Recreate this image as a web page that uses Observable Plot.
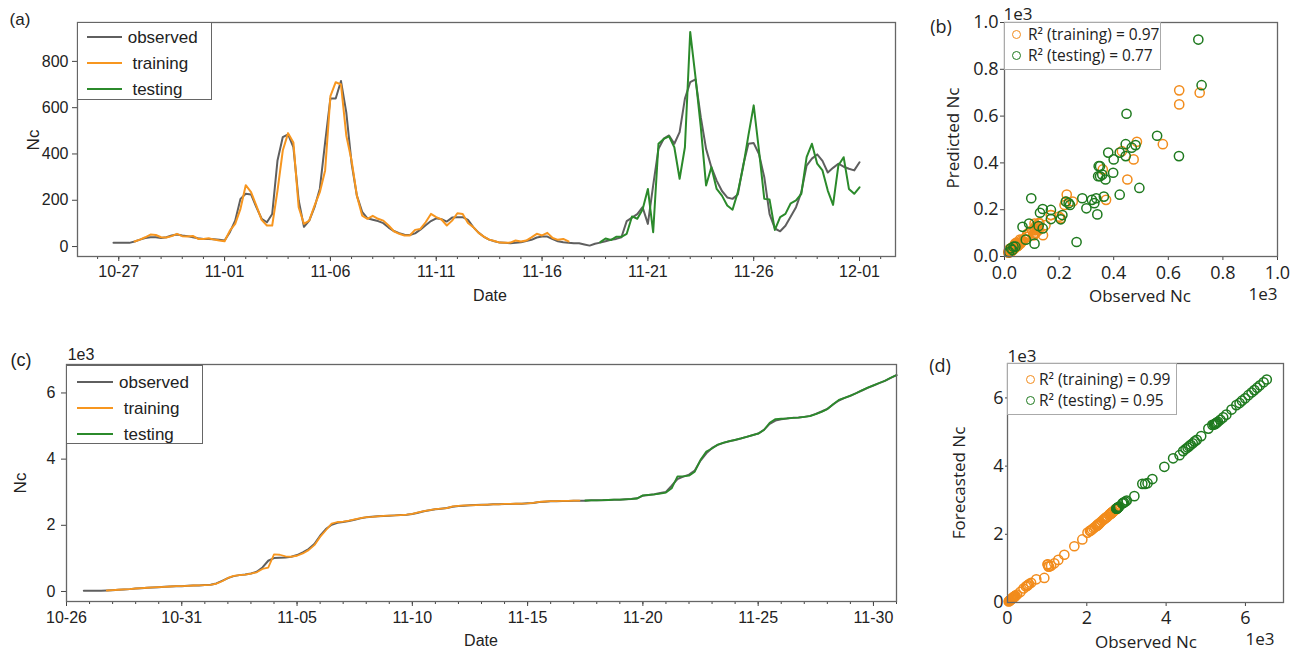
<!DOCTYPE html>
<html><head><meta charset="utf-8">
<script src="https://cdn.jsdelivr.net/npm/d3@7"></script>
<script src="https://cdn.jsdelivr.net/npm/@observablehq/plot@0.6"></script>
<style>
body{margin:0;background:#fff;}
#wrap{position:relative;width:1301px;height:652px;overflow:hidden;background:#fff;}
.abs{position:absolute;white-space:nowrap;line-height:1;color:#222;}
.panel{position:absolute;}
.legend{position:absolute;background:#fff;border:1.3px solid #666;box-sizing:border-box;}
</style></head><body><div id="wrap"></div>
<script>
// ---------- DATA (6-hourly samples starting 10-26 18:00) ----------
const seriesStart = "2021-10-26T18:00:00Z";
const stepHours = 6;
const trainStartIndex = 4;
const testStartIndex = 92;     // panel (a)
const testCumStartIndex = 87;  // panel (c)

// Panel (a): Nc per time step
const observedRate = [
16,16,16,16,22,30,37,40,40,37,
40,48,52,48,45,40,36,33,33,32,
29,26,62,112,206,228,225,170,120,105,
141,372,473,485,430,200,85,112,170,250,
450,640,640,715,580,360,220,150,122,116,
110,101,82,67,58,51,50,57,73,92,
110,122,118,108,125,127,127,115,84,60,
42,30,23,17,16,14,16,19,24,29,
39,43,43,32,23,19,16,14,14,9,
4,12,17,23,29,33,40,110,125,140,
170,98,264,422,466,480,444,494,639,710,
722,559,422,343,285,240,212,206,225,350,
444,447,400,300,140,78,66,90,130,170,
235,350,380,398,370,320,340,358,345,336,
329,364];
const trainingRate = [
22,30,40,52,50,40,39,45,55,45,
43,46,33,33,36,30,26,23,69,98,
163,265,235,177,115,91,91,242,415,490,
450,170,98,112,177,235,329,650,710,700,
480,372,220,134,120,133,120,112,91,66,
55,48,48,72,76,105,141,127,117,91,
112,144,141,102,84,59,43,30,24,17,
16,17,26,22,26,40,55,48,59,37,
29,33,22];
const testingRate = [
19,35,28,42,42,55,130,120,160,249,
62,444,465,476,429,293,429,927,732,516,
264,343,249,220,177,159,235,343,480,610,
415,206,203,72,127,141,187,199,228,386,
444,358,329,242,180,350,386,249,228,256];

// Panel (c): cumulative Nc
const observedCum = [
20,20,20,20,30,40,50,60,71,91,
101,111,121,131,141,151,161,161,172,182,
182,192,202,242,323,404,464,494,515,545,
595,726,928,1009,1019,1029,1049,1100,1181,1281,
1433,1685,1887,2018,2079,2099,2129,2169,2210,2240,
2260,2270,2280,2290,2300,2311,2321,2341,2381,2422,
2452,2482,2502,2523,2563,2583,2593,2603,2613,2623,
2623,2633,2633,2644,2644,2654,2654,2664,2674,2704,
2714,2724,2724,2734,2734,2744,2744,2744,2755,2755,
2755,2765,2775,2775,2785,2795,2815,2896,2916,2936,
2977,3007,3199,3400,3471,3532,3653,3955,4177,4339,
4430,4490,4541,4581,4621,4672,4722,4773,4884,5065,
5166,5206,5227,5247,5257,5277,5307,5368,5439,5519,
5650,5771,5852,5913,5993,6074,6155,6225,6296,6367,
6458,6538];
const trainingCum = [
30,40,52,62,72,90,100,112,124,132,
140,150,160,162,170,180,182,190,200,235,
310,410,470,492,510,540,580,680,720,1120,
1110,1060,1050,1080,1150,1250,1400,1650,1850,2050,
2100,2110,2140,2180,2215,2245,2255,2270,2285,2290,
2298,2310,2325,2345,2390,2430,2460,2490,2505,2520,
2570,2590,2600,2605,2612,2620,2625,2632,2635,2645,
2645,2652,2656,2665,2678,2710,2720,2728,2730,2736,
2738,2746,2748];
const testingCum = [
2750,2752,2756,2758,2765,
2775,2778,2786,2796,2810,2905,2920,2935,2960,2990,
3120,3480,3480,3500,3620,3980,4230,4320,4440,4500,
4545,4585,4625,4670,4725,4770,4880,5100,5210,5220,
5230,5245,5255,5280,5300,5360,5430,5510,5660,5790,
5850,5920,5990,6080,6160,6230,6300,6370,6460,6540];

// Tick labels
const year = 2021;
const xTickLabelsA = ["10-27","11-01","11-06","11-11","11-16","11-21","11-26","12-01"];
const xTickLabelsC = ["10-26","10-31","11-05","11-10","11-15","11-20","11-25","11-30"];
const yTicksA = [0,200,400,600,800];
const yTicksC = [0,2000,4000,6000];
const ticksB = [0,200,400,600,800,1000];
const ticksD = [0,2000,4000,6000];
const seriesNames = ["observed"," training"," testing"];
const legendB = ["R\u00B2 (training) = 0.97","R\u00B2 (testing) = 0.77"];
const legendD = ["R\u00B2 (training) = 0.99","R\u00B2 (testing) = 0.95"];

// ---------- helpers ----------
const GREY = "#5f5f5f", ORANGE = "#f7961f", GREEN = "#2b8a2b";
const DOT_OR = "#f28c1c", DOT_GR = "#1f7a1f";
const SANS = '"Liberation Sans", Arial, sans-serif';
const OPEN = '"Open Sans", "DejaVu Sans", sans-serif';
const dayMs = 864e5;
const t0 = new Date(seriesStart).getTime();
const tAt = i => new Date(t0 + i*stepHours*3600e3);
const parseMD = s => { const [m,d] = s.split("-").map(Number); return new Date(Date.UTC(year, m-1, d)); };
const base = Date.UTC(year, 9, 26);

const obsRows = observedRate.map((v,i)=>({t:tAt(i), v}));
const trRows = trainingRate.map((v,k)=>({t:tAt(trainStartIndex+k), v, obs: observedRate[trainStartIndex+k]}));
const teRows = testingRate.map((v,k)=>({t:tAt(testStartIndex+k), v, obs: observedRate[testStartIndex+k]}));
const obsCumRows = observedCum.map((v,i)=>({t:tAt(i), v}));
const trCumRows = trainingCum.map((v,k)=>({t:tAt(trainStartIndex+k), v, obs: observedCum[trainStartIndex+k]}));
const teCumRows = testingCum.map((v,k)=>({t:tAt(testCumStartIndex+k), v, obs: observedCum[testCumStartIndex+k]}));

const wrap = document.getElementById("wrap");
function place(svg, left, top){ svg.classList.add("panel"); svg.style.left=left+"px"; svg.style.top=top+"px"; wrap.appendChild(svg); }
function label(txt, cx, cy, o={}){
  const el = document.createElement("div"); el.className="abs"; el.textContent=txt;
  el.style.left=cx+"px"; el.style.top=cy+"px";
  el.style.fontSize=(o.size||16)+"px"; el.style.fontFamily=o.family||SANS;
  const tx = o.anchor==="start" ? "0" : "-50%";
  el.style.transform=`translate(${tx},-50%)`+(o.rotate?` rotate(${o.rotate}deg)`:"");
  if (o.rotate) el.style.transformOrigin = "center";
  wrap.appendChild(el); return el;
}
function box(left, top, w, h, border){ const b=document.createElement("div"); b.className="legend";
  Object.assign(b.style,{left:left+"px",top:top+"px",width:w+"px",height:h+"px"}); if(border) b.style.borderColor=border; wrap.appendChild(b); }
function lineKey(x1, x2, y, color, w){ const d=document.createElement("div");
  Object.assign(d.style,{position:"absolute",left:x1+"px",top:(y-w/2)+"px",width:(x2-x1)+"px",height:w+"px",background:color}); wrap.appendChild(d); }
function circKey(cx, cy, color){ const d=document.createElement("div");
  Object.assign(d.style,{position:"absolute",left:(cx-4.5)+"px",top:(cy-4.5)+"px",width:"9px",height:"9px",border:"1.5px solid "+color,borderRadius:"50%",boxSizing:"border-box"}); wrap.appendChild(d); }

const styleSans = {fontFamily:SANS, fontSize:"16px", color:"#222", background:"transparent", overflow:"visible"};
const styleOpen = {fontFamily:OPEN, fontSize:"18px", color:"#222", background:"transparent", overflow:"visible"};

// ---------- Panel (a) ----------
const majorA = xTickLabelsA.map(parseMD);
const minorA = d3.range(0, 38).map(k => new Date(base + k*dayMs));
place(Plot.plot({
  width:905, height:300, marginLeft:77, marginTop:22, marginRight:10, marginBottom:44,
  style: styleSans,
  x:{type:"utc", domain:[new Date(base-0.95*dayMs), new Date(base+37.7*dayMs)]},
  y:{domain:[-43,968]},
  marks:[
    Plot.axisX({ticks:minorA, tickSize:3, tickFormat:()=>"", label:null, stroke:"#444"}),
    Plot.axisX({ticks:majorA, tickSize:5, tickPadding:4, tickFormat:d3.utcFormat("%m-%d"), label:null, stroke:"#444"}),
    Plot.axisY({ticks:yTicksA, tickSize:5, tickPadding:4, label:null, stroke:"#444"}),
    Plot.line(obsRows,{x:"t",y:"v",stroke:GREY,strokeWidth:2}),
    Plot.line(trRows,{x:"t",y:"v",stroke:ORANGE,strokeWidth:2}),
    Plot.line(teRows,{x:"t",y:"v",stroke:GREEN,strokeWidth:2}),
    Plot.frame({stroke:"#666", strokeWidth:1.3})
  ]
}), 0, 0);

// ---------- Panel (b) ----------
place(Plot.plot({
  width:341, height:300, marginLeft:44, marginTop:22, marginRight:24, marginBottom:44,
  style: styleOpen,
  x:{domain:[0,1000]}, y:{domain:[0,1000]},
  marks:[
    Plot.axisX({ticks:ticksB, tickSize:4, tickPadding:6, tickFormat:d=>(d/1000).toFixed(1), label:null, stroke:"#444"}),
    Plot.axisY({ticks:ticksB, tickSize:4, tickPadding:2, tickFormat:d=>(d/1000).toFixed(1), label:null, stroke:"#444"}),
    Plot.dot(trRows,{x:"obs",y:"v",r:4.6,stroke:DOT_OR,strokeWidth:1.5,fill:"none"}),
    Plot.dot(teRows,{x:"obs",y:"v",r:4.6,stroke:DOT_GR,strokeWidth:1.5,fill:"none"}),
    Plot.frame({stroke:"#666", strokeWidth:1.3})
  ]
}), 960, 0);

// ---------- Panel (c) ----------
const majorC = xTickLabelsC.map(parseMD);
const minorC = d3.range(0, 37).map(k => new Date(base + k*dayMs));
place(Plot.plot({
  width:905, height:300, marginLeft:66, marginTop:24, marginRight:9, marginBottom:39,
  style: styleSans,
  x:{type:"utc", domain:[new Date(base), new Date(base+36*dayMs)]},
  y:{domain:[-303,6860]},
  marks:[
    Plot.axisX({ticks:minorC, tickSize:3, tickFormat:()=>"", label:null, stroke:"#444"}),
    Plot.axisX({ticks:majorC, tickSize:5, tickPadding:5, tickFormat:d3.utcFormat("%m-%d"), label:null, stroke:"#444"}),
    Plot.axisY({ticks:yTicksC, tickSize:5, tickPadding:6, tickFormat:d=>String(d/1000), label:null, stroke:"#444"}),
    Plot.line(obsCumRows,{x:"t",y:"v",stroke:GREY,strokeWidth:2}),
    Plot.line(trCumRows,{x:"t",y:"v",stroke:ORANGE,strokeWidth:1.8}),
    Plot.line(teCumRows,{x:"t",y:"v",stroke:GREEN,strokeWidth:1.8}),
    Plot.frame({stroke:"#666", strokeWidth:1.3})
  ]
}), 0, 340);

// ---------- Panel (d) ----------
place(Plot.plot({
  width:341, height:300, marginLeft:47, marginTop:23, marginRight:18, marginBottom:38,
  style: styleOpen,
  x:{domain:[0,6960]}, y:{domain:[0,7010]},
  marks:[
    Plot.axisX({ticks:ticksD, tickSize:4, tickPadding:5, tickFormat:d=>String(d/1000), label:null, stroke:"#444"}),
    Plot.axisY({ticks:ticksD, tickSize:2, tickPadding:2, tickFormat:d=>String(d/1000), label:null, stroke:"#444"}),
    Plot.dot(trCumRows,{x:"obs",y:"v",r:4.6,stroke:DOT_OR,strokeWidth:1.5,fill:"none"}),
    Plot.dot(teCumRows,{x:"obs",y:"v",r:4.6,stroke:DOT_GR,strokeWidth:1.5,fill:"none"}),
    Plot.frame({stroke:"#666", strokeWidth:1.3})
  ]
}), 960, 340);

// ---------- Text labels ----------
label("(a)", 20, 19, {size:17});
label("Nc", 33, 140, {size:17, rotate:-90});
label("Date", 490, 296, {size:16});
label("(b)", 941, 26, {size:18, family:OPEN});
label("1e3", 1018, 13, {size:17, family:OPEN});
label("Predicted Nc", 952, 138, {size:17, family:OPEN, rotate:-90});
label("Observed Nc", 1140, 295, {size:17, family:OPEN});
label("1e3", 1263, 293, {size:17, family:OPEN});
label("(c)", 21, 360, {size:18});
label("1e3", 81, 355, {size:16});
label("Nc", 20, 483, {size:17, rotate:-90});
label("Date", 481, 641, {size:16});
label("(d)", 940, 365, {size:18, family:OPEN});
label("1e3", 1022, 355, {size:17, family:OPEN});
label("Forecasted Nc", 958, 483, {size:17, family:OPEN, rotate:-90});
label("Observed Nc", 1146, 641, {size:17, family:OPEN});
label("1e3", 1260, 638, {size:17, family:OPEN});

// ---------- Legends ----------
const lineColors = [GREY, ORANGE, GREEN];
box(77, 22, 135, 78);
[36.7, 63.3, 89].forEach((y,k)=>{ lineKey(86.7, 121.7, y, lineColors[k], 2.2); label(seriesNames[k], 127.7, y, {size:17, anchor:"start"}).style.whiteSpace="pre"; });
box(66, 365, 137, 79);
[381.7, 408.3, 434].forEach((y,k)=>{ lineKey(76.7, 113, y, lineColors[k], 2); label(seriesNames[k], 119, y, {size:17, anchor:"start"}).style.whiteSpace="pre"; });
box(1004, 22, 157, 48, "#aaa");
[34.5, 55.5].forEach((y,k)=>{ circKey(1016.7, y, k?DOT_GR:DOT_OR); label(legendB[k], 1028, y, {size:15.5, family:OPEN, anchor:"start"}); });
box(1007, 363, 170, 52, "#aaa");
[379.5, 400.5].forEach((y,k)=>{ circKey(1030, y, k?DOT_GR:DOT_OR); label(legendD[k], 1039, y, {size:15.5, family:OPEN, anchor:"start"}); });
</script></body></html>
